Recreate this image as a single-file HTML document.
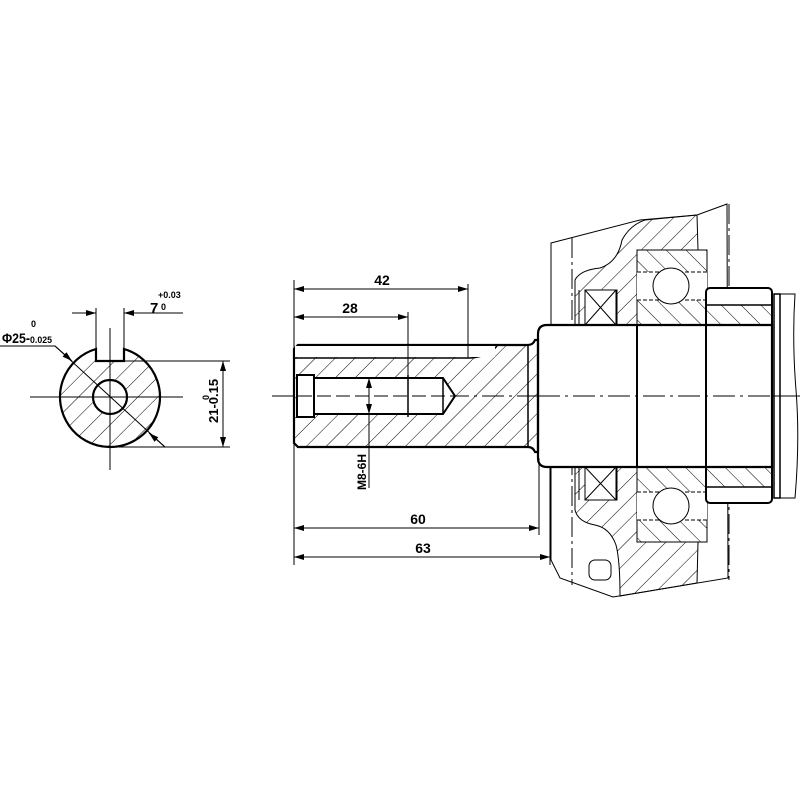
<!DOCTYPE html>
<html><head><meta charset="utf-8"><style>
html,body{margin:0;padding:0;background:#fff}
svg{display:block}
text{font-family:"Liberation Sans",sans-serif;font-weight:bold;fill:#000}
</style></head><body>
<svg width="800" height="800" viewBox="0 0 800 800" xmlns="http://www.w3.org/2000/svg">
<defs>
<pattern id="h1" patternUnits="userSpaceOnUse" width="14" height="14" patternTransform="rotate(45)">
<line x1="0" y1="0" x2="0" y2="14" stroke="#000" stroke-width="1"/></pattern>
<pattern id="h2" patternUnits="userSpaceOnUse" width="14" height="14" patternTransform="rotate(-45)">
<line x1="0" y1="0" x2="0" y2="14" stroke="#000" stroke-width="1"/></pattern>
<marker id="a" viewBox="0 0 10 6" refX="10" refY="3" markerWidth="10" markerHeight="6" orient="auto-start-reverse" markerUnits="userSpaceOnUse">
<path d="M0,0 L10,3 L0,6 z" fill="#000"/></marker>
</defs>
<g fill="none" stroke="#000">

<path d="M96,349 L96,361 L124,361 L124,349 A50,50 0 1 1 96,349 Z" fill="url(#h1)" stroke-width="2.2"/>
<circle cx="110" cy="397" r="17" fill="#fff" stroke-width="2.2"/>
<line x1="30" y1="397" x2="183" y2="397" stroke-width="1"/>
<line x1="110" y1="328" x2="110" y2="470" stroke-width="1"/>
<line x1="96" y1="308" x2="96" y2="349" stroke-width="1"/>
<line x1="124" y1="308" x2="124" y2="349" stroke-width="1"/>
<line x1="72" y1="313" x2="96" y2="313" stroke-width="1" marker-end="url(#a)"/>
<line x1="183" y1="313" x2="124" y2="313" stroke-width="1" marker-end="url(#a)"/>
<line x1="124" y1="361" x2="230" y2="361" stroke-width="1"/>
<line x1="115" y1="447" x2="230" y2="447" stroke-width="1"/>
<line x1="223" y1="380" x2="223" y2="361" stroke-width="1" marker-end="url(#a)"/>
<line x1="223" y1="420" x2="223" y2="447" stroke-width="1" marker-end="url(#a)"/>
<line x1="223" y1="380" x2="223" y2="420" stroke-width="1"/>
<polyline points="0,346 55,346 165,447" stroke-width="1"/>
<line x1="55" y1="346" x2="72" y2="361" stroke-width="1" marker-end="url(#a)"/>
<line x1="165" y1="447" x2="149" y2="433" stroke-width="1" marker-end="url(#a)"/>

<line x1="272" y1="396" x2="800" y2="396" stroke-width="1" stroke-dasharray="22,5,3,5"/>

<path d="M551,243 L640,220 L697,215 L727,204 L728,578 L613,597 L560,578 L551,560 Z" stroke-width="1"/>
<line x1="572" y1="238" x2="572" y2="585" stroke-width="1" stroke-dasharray="20,4,3,4"/>
<line x1="729" y1="204" x2="729" y2="580" stroke-width="1" stroke-dasharray="20,4,3,4"/>
<path d="M575,325 L575,280 Q580,270 600,268 Q618,262 622,240 Q630,225 645,220 L697,215 L698,250 L637,250 L637,325 L617,325 L617,290 L585,290 L585,325 Z" fill="url(#h1)" stroke-width="1"/>
<line x1="579" y1="290" x2="579" y2="325" stroke-width="1"/>
<path d="M575,467 L575,510 Q578,522 595,525 Q610,528 616,545 Q620,560 620,596 L697,583 L698,542 L637,542 L637,467 L617,467 L617,500 L585,500 L585,467 Z" fill="url(#h1)" stroke-width="1"/>
<line x1="579" y1="467" x2="579" y2="500" stroke-width="1"/>
<rect x="589" y="560" width="22" height="20" rx="6" stroke-width="1"/>
<rect x="585" y="290" width="31" height="35" stroke-width="1"/>
<path d="M585,290 L616,325 M616,290 L585,325" stroke-width="1"/>
<rect x="585" y="467" width="31" height="33" stroke-width="1"/>
<path d="M585,467 L616,500 M616,467 L585,500" stroke-width="1"/>
<rect x="637" y="250" width="70" height="75" fill="url(#h2)" stroke-width="1"/>
<rect x="637" y="272" width="70" height="28" fill="#fff" stroke="none"/>
<line x1="637" y1="272" x2="707" y2="272" stroke-width="1" stroke-dasharray="4,2"/>
<line x1="637" y1="300" x2="707" y2="300" stroke-width="1" stroke-dasharray="4,2"/>
<circle cx="671" cy="286" r="18" fill="#fff" stroke-width="1"/>
<rect x="637" y="467" width="70" height="75" fill="url(#h2)" stroke-width="1"/>
<rect x="637" y="492" width="70" height="28" fill="#fff" stroke="none"/>
<line x1="637" y1="492" x2="707" y2="492" stroke-width="1" stroke-dasharray="4,2"/>
<line x1="637" y1="520" x2="707" y2="520" stroke-width="1" stroke-dasharray="4,2"/>
<circle cx="671" cy="506" r="18" fill="#fff" stroke-width="1"/>
<rect x="706" y="288" width="66" height="215" rx="4" fill="#fff" stroke-width="2"/>
<rect x="707" y="305" width="64" height="20" fill="url(#h2)" stroke="none"/>
<rect x="707" y="467" width="64" height="20" fill="url(#h2)" stroke="none"/>
<line x1="706" y1="305" x2="772" y2="305" stroke-width="1.5"/>
<line x1="706" y1="487" x2="772" y2="487" stroke-width="1.5"/>
<path d="M774,294 L780,294 L780,498 L774,498 Z" stroke-width="1.5"/>
<path d="M780,294 L795,294 Q792,340 796,390 Q800,440 795,498 L780,498" stroke-width="1"/>

<path d="M547,325 L772,325 L772,467 L547,467 Q538,467 538,458 L538,334 Q538,325 547,325 Z" fill="#fff" stroke-width="2.2"/>
<line x1="637" y1="325" x2="637" y2="467" stroke-width="2"/>
<line x1="706" y1="325" x2="706" y2="467" stroke-width="2"/>
<line x1="538" y1="396" x2="800" y2="396" stroke-width="1" stroke-dasharray="22,5,3,5"/>

<path d="M298,345 L528,345 Q533,345 535,340 L538,340 L538,452 L535,452 Q533,447 528,447 L298,447 L294,443 L294,349 Z" fill="url(#h1)" stroke-width="2.2"/>
<path d="M294,358 L470,358 Q488,357 497,346" stroke-width="1.5"/>
<rect x="295" y="346" width="200" height="11" fill="#fff" stroke="none"/>
<line x1="528" y1="345" x2="528" y2="447" stroke-width="1.5"/>
<path d="M314,378 L443,378 L455,396 L443,414 L314,414 Z" fill="#fff" stroke-width="2"/>
<rect x="297" y="375" width="17" height="42" fill="#fff" stroke-width="2"/>
<line x1="443" y1="378" x2="443" y2="414" stroke-width="1.5"/>
<line x1="408" y1="375" x2="408" y2="417" stroke-width="1.5"/>
<line x1="298" y1="396" x2="460" y2="396" stroke-width="1" stroke-dasharray="14,5"/>
<line x1="369" y1="396" x2="369" y2="378" stroke-width="1" marker-end="url(#a)"/>
<line x1="369" y1="396" x2="369" y2="414" stroke-width="1" marker-end="url(#a)"/>
<line x1="369" y1="414" x2="369" y2="488" stroke-width="1"/>

<line x1="294" y1="280" x2="294" y2="565" stroke-width="1"/>
<line x1="468" y1="284" x2="468" y2="358" stroke-width="1"/>
<line x1="408" y1="312" x2="408" y2="375" stroke-width="1"/>
<line x1="539" y1="458" x2="539" y2="535" stroke-width="1"/>
<line x1="550" y1="467" x2="550" y2="565" stroke-width="1"/>
<line x1="294" y1="289" x2="468" y2="289" stroke-width="1" marker-start="url(#a)" marker-end="url(#a)"/>
<line x1="294" y1="317" x2="408" y2="317" stroke-width="1" marker-start="url(#a)" marker-end="url(#a)"/>
<line x1="294" y1="528" x2="539" y2="528" stroke-width="1" marker-start="url(#a)" marker-end="url(#a)"/>
<line x1="294" y1="557" x2="550" y2="557" stroke-width="1" marker-start="url(#a)" marker-end="url(#a)"/>
</g>

<text x="382" y="285" font-size="14" text-anchor="middle">42</text>
<text x="350" y="313" font-size="14" text-anchor="middle">28</text>
<text x="418" y="524" font-size="14" text-anchor="middle">60</text>
<text x="423" y="553" font-size="14" text-anchor="middle">63</text>
<text transform="translate(366,490) rotate(-90)" font-size="12">M8-6H</text>
<text x="150" y="313" font-size="15">7</text>
<text x="158" y="298" font-size="9">+0.03</text>
<text x="161" y="310" font-size="9">0</text>
<text x="2" y="343" font-size="14" textLength="28" lengthAdjust="spacingAndGlyphs">Φ25-</text>
<text x="31" y="327" font-size="9">0</text>
<text x="30" y="343" font-size="9" textLength="22" lengthAdjust="spacingAndGlyphs">0.025</text>
<text transform="translate(218,423) rotate(-90)" font-size="13">21-0.15</text>
<text transform="translate(209,400) rotate(-90)" font-size="9">0</text>
</svg>
</body></html>
